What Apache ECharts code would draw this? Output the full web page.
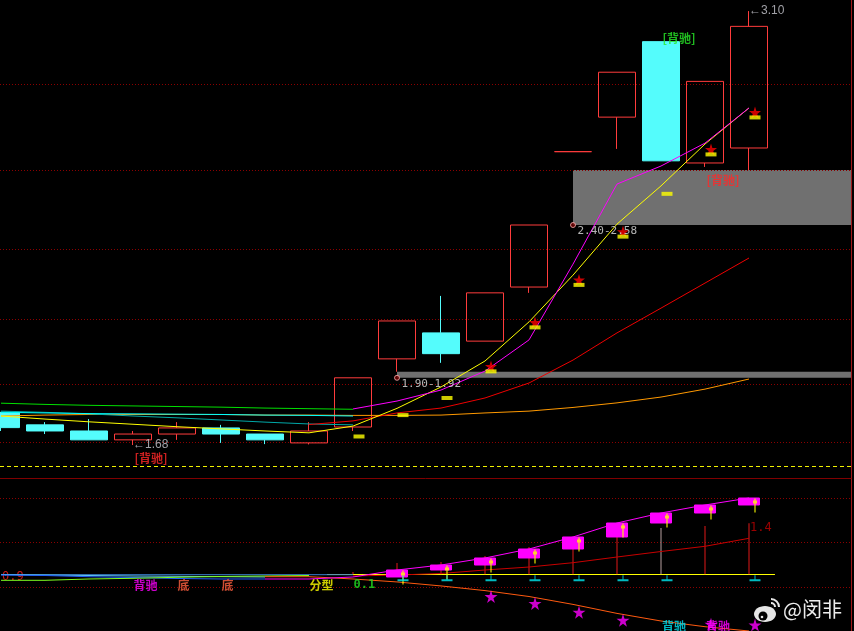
<!DOCTYPE html>
<html><head><meta charset="utf-8">
<script src="https://cdn.jsdelivr.net/npm/echarts@6/dist/echarts.min.js"></script>
<style>html,body{margin:0;padding:0;background:#000;}#c{width:854px;height:631px;}</style>
</head><body><div id="c"></div>
<script>
// ---------------- data ----------------
const N = 18;
const opens  = [1.787,1.746,1.726,1.697,1.716,1.736,1.716,1.687,1.739,1.962,2.047,2.020,2.197,2.64,2.753,3.00,2.603,2.652];
const closes = [1.737,1.726,1.697,1.716,1.736,1.716,1.697,1.726,1.900,2.086,1.979,2.178,2.400,2.64,2.900,2.61,2.870,3.050];
const lows   = [1.726,1.716,1.697,1.680,1.697,1.687,1.683,1.682,1.726,1.920,1.949,2.020,2.178,2.64,2.649,2.61,2.590,2.580];
const highs  = [1.788,1.755,1.765,1.726,1.755,1.746,1.716,1.755,1.900,2.086,2.168,2.178,2.400,2.64,2.900,3.00,2.870,3.100];

const maYellow  = [1.775,1.765,1.756,1.748,1.740,1.733,1.726,1.720,1.742,1.800,1.870,1.955,2.083,2.236,2.403,2.528,2.665,2.783];
const maMagenta = [null,null,null,null,null,null,null,null,1.798,1.824,1.860,1.922,2.024,2.272,2.534,2.593,2.668,2.783];
const maRed     = [null,null,null,null,null,null,null,1.747,1.759,1.785,1.801,1.834,1.883,1.958,2.047,2.128,2.210,2.292];
const maOrange  = [1.775,1.778,1.780,1.780,1.780,1.780,1.778,1.778,1.777,1.777,1.778,1.785,1.791,1.803,1.818,1.837,1.863,1.896];
const maGreen   = [1.817,1.813,1.810,1.808,1.806,1.804,1.801,1.799,1.797];
const maCyan    = [1.787,1.785,1.783,1.782,1.781,1.780,1.778,1.777,1.775];
const maTeal    = [1.791,1.787,1.782,1.775,1.769,1.762,1.755,1.749,1.746];

const signalLevel = [null,null,null,null,null,null,null,null,1.708,1.778,1.834,1.921,2.065,2.204,2.362,2.502,2.631,2.752];
const starOn      = [0,0,0,0,0,0,0,0,0,0,0,1,1,1,1,0,1,1];

const gapStart = [9, 13];
const gapLow   = [1.90, 2.40];
const gapHigh  = [1.92, 2.58];
const priceGridLevels = [1.693, 1.880, 2.089, 2.321, 2.577, 2.861];
const baseLevel = 1.608;

const divTopIdx = [15];
const divBotIdx = [3, 16];

// indicator pane
const subMagenta = [null,null,null,null,null,null,-0.129,-0.129,-0.074,0.118,0.255,0.448,0.695,1.025,1.409,1.684,1.904,2.096];
const subHist    = [null,null,null,null,null,null,null,null,0.063,0.310,0.338,0.503,0.750,1.025,1.025,1.272,1.327,1.400];
const histDim    = [0,0,0,0,0,0,0,0,0,0,0,0,0,0,0,1,0,0];
const subRedLine = [null,null,null,null,null,null,null,null,-0.047,-0.020,0.022,0.118,0.200,0.319,0.475,0.626,0.769,0.989];
const subOrange  = [null,null,null,null,null,null,-0.066,-0.066,-0.129,-0.210,-0.320,-0.448,-0.610,-0.827,-1.074,-1.283,-1.440,-1.558];
const subStars   = [null,null,null,null,null,null,null,null,null,null,null,-0.61,-0.80,-1.04,-1.26,null,-1.37,-1.39];
const cyanFlag   = [0,0,0,0,0,0,0,0,0,1,1,1,1,1,1,1,0,1];
const daggerFrom = 9;
const subBlue    = [-0.020,-0.033,-0.066,-0.088,-0.115,-0.129,-0.129];
const subLime    = [-0.165,-0.165,-0.129,-0.110,-0.082,-0.060,-0.047,-0.033];
const subSteel   = [-0.011,-0.011,-0.011,-0.011,-0.011,-0.011,-0.011,-0.011,-0.011];
const subSky     = [-0.005,-0.020,-0.033,-0.047,-0.055,-0.066,-0.074];
const subGridLevels = [-0.349, 0.887, 2.096];
const zeroFrom = 7.41, zeroTo = 17.59;

const tagIdx   = [3, 4, 5, 7, 8];
const tagText  = ['背驰', '底', '底', '分型', '0.1'];
const lowTagIdx  = [15, 16];
const lowTagText = ['背驰', '背驰'];
const leftTagText = '0.9';

// ---------------- helpers ----------------
const pts = arr => arr.map((v, i) => v == null ? null : [i, v]).filter(Boolean);
const X_MIN = -1 / 44, X_MAX = 850 / 44;
const CJK = '"Noto Sans CJK SC", sans-serif';
const MONO = '"DejaVu Sans Mono", monospace';
const starPath = 'path://M50,0 L61,35 L98,35 L68,57 L79,91 L50,70 L21,91 L32,57 L2,35 L39,35 Z';
const daggerPath = 'path://M1,0 L2,0 L2,2 L3,2 L3,5 L2,5 L2,14 L1,14 L1,5 L0,5 L0,2 L1,2 Z';
const teePath = 'path://M5,0 L6,0 L6,4 L11,4 L11,6 L0,6 L0,4 L5,4 Z';

function line(arr, color, g, z) {
  return { type: 'line', xAxisIndex: g, yAxisIndex: g, data: pts(arr), symbol: 'none',
    lineStyle: { color: color, width: 1 }, z: z || 3, silent: true };
}
function textMarks(data, g, color, pos, fmt, font, size, z, weight) {
  return { type: 'scatter', xAxisIndex: g, yAxisIndex: g, data: data, symbolSize: 1,
    itemStyle: { color: 'rgba(0,0,0,0)' }, z: z || 6, silent: true,
    label: { show: true, position: pos, align: 'left', verticalAlign: 'middle',
      color: color, fontSize: size || 12, fontFamily: font || CJK, fontWeight: weight || 'normal', formatter: fmt } };
}
const gridLine = { color: '#8b0000', type: [1, 2], width: 1 };

let minIdx = 0, maxIdx = 0;
lows.forEach((v, i) => { if (v < lows[minIdx]) minIdx = i; });
highs.forEach((v, i) => { if (v > highs[maxIdx]) maxIdx = i; });

const axisX = g => ({ type: 'value', gridIndex: g, min: X_MIN, max: X_MAX,
  axisLine: { show: g === 0, onZero: false, lineStyle: { color: '#800000' } },
  axisTick: { show: false }, axisLabel: { show: false }, splitLine: { show: false } });
const axisY = (g, mn, mx) => ({ type: 'value', gridIndex: g, min: mn, max: mx, position: 'right',
  axisLine: { show: true, onZero: false, lineStyle: { color: '#a01818' } },
  axisTick: { show: false }, axisLabel: { show: false }, splitLine: { show: false } });

const series = [
  // price candles
  { type: 'candlestick', xAxisIndex: 0, yAxisIndex: 0, z: 2, barWidth: 37,
    data: Array.from({ length: N }, (_, i) => [i, opens[i], closes[i], lows[i], highs[i]]),
    itemStyle: { color: 'rgba(0,0,0,0)', color0: '#54fcfc', borderColor: '#ff3c3c',
      borderColor0: '#54fcfc', borderColorDoji: '#ff3c3c', borderWidth: 1 },
    markLine: { silent: true, symbol: 'none', z: 1, label: { show: false },
      data: priceGridLevels.map(v => ({ yAxis: v, lineStyle: gridLine }))
        .concat([{ yAxis: baseLevel, lineStyle: { color: '#f0f000', type: [4, 3], width: 1 } }]) },
    markArea: { silent: true, z: 1, itemStyle: { color: '#707070' },
      data: gapStart.map((s, k) => [{ coord: [s, gapLow[k]] }, { coord: [X_MAX, gapHigh[k]] }]) }
  },
  line(maOrange, '#ff9900'),
  line(maTeal, '#00a8a8'),
  line(maCyan, '#00ffff'),
  line(maGreen, '#00e000'),
  line(maRed, '#ee0000'),
  line(maYellow, '#ffff00'),
  line(maMagenta, '#ff00ff'),
  { type: 'scatter', xAxisIndex: 0, yAxisIndex: 0, z: 4, silent: true,
    data: pts(signalLevel.map((v, i) => starOn[i] ? v : null)),
    symbol: starPath, symbolSize: 12, symbolOffset: [6, -5], itemStyle: { color: '#ff0000' } },
  { type: 'scatter', xAxisIndex: 0, yAxisIndex: 0, z: 5, silent: true, data: pts(signalLevel),
    symbol: 'rect', symbolSize: [11, 4], symbolOffset: [6, 0], itemStyle: { color: '#ffff00' } },
  // gap corner markers + labels
  { type: 'scatter', xAxisIndex: 0, yAxisIndex: 0, z: 6, silent: true,
    data: gapStart.map((s, k) => [s, gapLow[k], gapHigh[k]]),
    symbol: 'circle', symbolSize: 5, itemStyle: { color: '#700000', borderColor: '#ffb0b0', borderWidth: 1 },
    label: { show: true, position: [7.5, 9.5], align: 'left', verticalAlign: 'middle', color: '#e0e0e0',
      fontSize: 11, fontFamily: MONO, formatter: p => p.value[1].toFixed(2) + '-' + p.value[2].toFixed(2) } },
  textMarks(divBotIdx.map(i => [i, lows[i]]), 0, '#ff2828', [2, 13.5], '[背驰]', CJK, 12, 6, 'bold'),
  textMarks(divTopIdx.map(i => [i, highs[i]]), 0, '#28e828', [2, -3], '[背驰]', CJK, 12, 6, 'bold'),
  textMarks([[minIdx, lows[minIdx]]], 0, '#c8c8d0', [0.5, 0.5], p => '←' + p.value[1].toFixed(2), '"Liberation Sans", sans-serif', 12),
  textMarks([[maxIdx, highs[maxIdx]]], 0, '#c8c8d0', [0.5, 0.5], p => '←' + p.value[1].toFixed(2), '"Liberation Sans", sans-serif', 12),

  // indicator pane
  { type: 'bar', xAxisIndex: 1, yAxisIndex: 1, z: 2, barWidth: 1, silent: true,
    data: pts(subHist).map(d => ({ value: d, itemStyle: { color: histDim[d[0]] ? '#b8a0a0' : '#e01818' } })) },
  line(subSteel, '#3a80d0', 1, 2),
  line(subSky, '#60c8f0', 1, 2),
  line(subBlue, '#2060ff', 1, 2),
  line(subLime, '#80ff20', 1, 2),
  line(subOrange, '#ff5a10', 1, 3),
  line(subRedLine, '#c80000', 1, 3),
  Object.assign(line(subMagenta, '#ff00ff', 1, 3), {
    markLine: { silent: true, symbol: 'none', z: 1, label: { show: false },
      data: subGridLevels.map(v => ({ yAxis: v, lineStyle: gridLine }))
        .concat([[{ coord: [zeroFrom, 0], lineStyle: { color: '#ffff00', type: 'solid', width: 1 } }, { coord: [zeroTo, 0] }]]) } }),
  { type: 'candlestick', xAxisIndex: 1, yAxisIndex: 1, z: 3, barWidth: 22, silent: true,
    data: subMagenta.map((v, i) => (i >= daggerFrom && subMagenta[i - 1] != null) ?
      [i, subMagenta[i - 1], v, Math.min(v, subMagenta[i - 1]), Math.max(v, subMagenta[i - 1])] : null).filter(Boolean),
    itemStyle: { color: '#ff00ff', color0: '#ff00ff', borderColor: '#ff00ff', borderColor0: '#ff00ff', borderColorDoji: '#ff00ff' } },
  { type: 'scatter', xAxisIndex: 1, yAxisIndex: 1, z: 4, silent: true,
    data: pts(subMagenta.map((v, i) => i >= daggerFrom ? v : null)),
    symbol: daggerPath, symbolSize: [4, 14], symbolOffset: [6, 7.5], itemStyle: { color: '#ffff00' } },
  { type: 'scatter', xAxisIndex: 1, yAxisIndex: 1, z: 4, silent: true,
    data: pts(cyanFlag.map(f => f ? 0 : null)),
    symbol: teePath, symbolSize: [11, 6], symbolOffset: [6, 4], itemStyle: { color: '#00e8f0' } },
  { type: 'scatter', xAxisIndex: 1, yAxisIndex: 1, z: 4, silent: true, data: pts(subStars),
    symbol: starPath, symbolSize: 13, symbolOffset: [6, 0], itemStyle: { color: '#ff00ff' } },
  textMarks(tagIdx.map((i, k) => ({ value: [i, -0.294], label: { color: ['#ff00ff', '#ff6040', '#ff6040', '#ffff00', '#20e020'][k],
    fontFamily: k === 4 ? MONO : CJK } })), 1, '#fff', [1, 0.5], p => tagText[tagIdx.indexOf(p.value[0])], CJK, 12, 6, 'bold'),
  textMarks(lowTagIdx.map((i, k) => ({ value: [i, -1.42], label: { color: ['#00e0f0', '#ff00ff'][k] } })), 1, '#fff', [1.5, 0.5],
    p => lowTagText[lowTagIdx.indexOf(p.value[0])], CJK, 12, 3, 'bold'),
  textMarks([[0, -0.074]], 1, '#ff2020', [1.5, 0.5], leftTagText, MONO, 12, 1),
  textMarks([[N - 1, subHist[N - 1]]], 1, '#c00000', [1.5, 5.5], p => p.value[1].toFixed(1), MONO, 12)
];

const chart = echarts.init(document.getElementById('c'), null, { renderer: 'canvas' });
chart.setOption({
  backgroundColor: '#000',
  animation: false,
  grid: [
    { left: 0, right: 3, top: 0, height: 478 },
    { left: 0, right: 3, top: 478, height: 153 }
  ],
  xAxis: [axisX(0), axisX(1)],
  yAxis: [axisY(0, 1.57215, 3.13628), axisY(1, -1.5577, 2.6456)],
  series: series,
  graphic: [
    { type: 'ellipse', z: 100, shape: { cx: 765, cy: 614, rx: 11, ry: 8 }, style: { fill: '#e6e6e6' } },
    { type: 'circle', z: 101, shape: { cx: 763, cy: 616, r: 4.5 }, style: { fill: '#000' } },
    { type: 'circle', z: 102, shape: { cx: 762, cy: 617, r: 1.3 }, style: { fill: '#e6e6e6' } },
    { type: 'arc', z: 100, shape: { cx: 771, cy: 607, r: 4, startAngle: -Math.PI / 2, endAngle: 0 }, style: { stroke: '#e6e6e6', lineWidth: 2, fill: null } },
    { type: 'arc', z: 100, shape: { cx: 771, cy: 607, r: 8, startAngle: -Math.PI / 2, endAngle: 0 }, style: { stroke: '#e6e6e6', lineWidth: 2, fill: null } },
    { type: 'text', x: 783, y: 609, z: 100,
      style: { text: '@闵非', fill: '#ececec', font: '20px "Noto Sans CJK SC", sans-serif', verticalAlign: 'middle', align: 'left' } }
  ]
});
</script></body></html>
